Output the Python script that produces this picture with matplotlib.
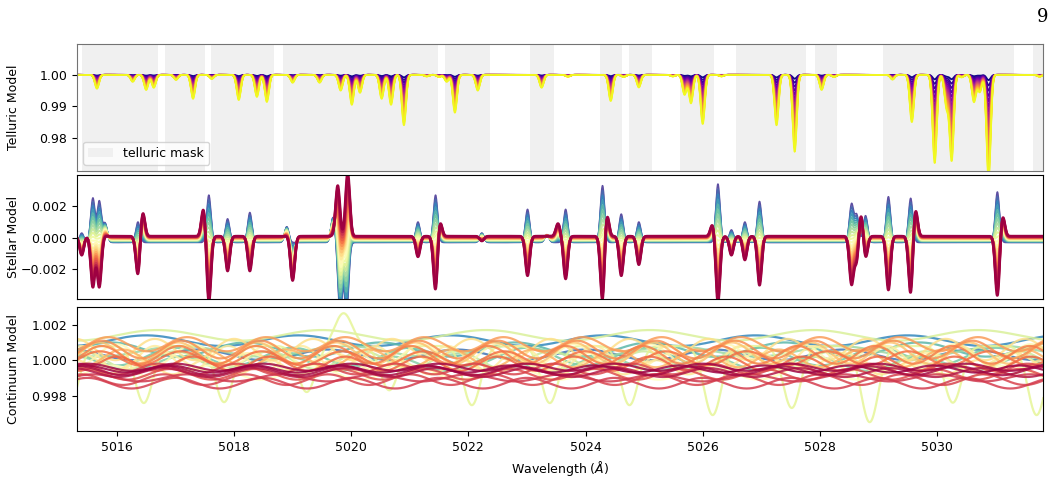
import numpy as np
import matplotlib
matplotlib.use("Agg")
from matplotlib import pyplot as plt

plt.rcParams["font.size"] = 9

# wavelength range shown (Angstrom)
wl_min, wl_max = 5015.32, 5031.81

# telluric mask regions (start, stop)
mask_start = [5015.40, 5016.82, 5017.60, 5018.83, 5021.60, 5023.06, 5024.24,
              5024.74, 5025.61, 5026.56, 5027.91, 5029.07, 5031.63]
mask_stop = [5016.70, 5017.50, 5018.68, 5021.49, 5022.37, 5023.47, 5024.63,
             5025.13, 5026.19, 5027.76, 5028.29, 5031.31, 5031.90]

# telluric lines: centre and full depth (deepest epoch)
tell_center = [5015.66, 5016.27, 5016.50, 5016.63, 5017.01, 5017.30, 5017.62,
               5018.08, 5018.39, 5018.56, 5019.00, 5019.46, 5019.82, 5020.01,
               5020.15, 5020.52, 5020.68, 5020.90, 5021.29, 5021.50, 5021.63,
               5021.77, 5022.16, 5023.25, 5023.70, 5024.43, 5024.65, 5024.91,
               5025.49, 5025.69, 5025.80, 5026.00, 5026.32, 5027.26, 5027.57,
               5028.03, 5028.24, 5029.24, 5029.57, 5029.96, 5030.16, 5030.25,
               5030.42, 5030.63, 5030.73, 5030.88, 5031.75]
tell_depth = [0.0044, 0.0022, 0.0048, 0.0041, 0.0016, 0.0076, 0.0013,
              0.0080, 0.0070, 0.0086, 0.0025, 0.0025, 0.0050, 0.0095,
              0.0057, 0.0076, 0.0095, 0.0160, 0.0005, 0.0007, 0.0022,
              0.0120, 0.0050, 0.0041, 0.0006, 0.0083, 0.0007, 0.0040,
              0.0005, 0.0063, 0.0090, 0.0156, 0.0005, 0.0160, 0.0244,
              0.0048, 0.0007, 0.0015, 0.0150, 0.0280, 0.0100, 0.0270,
              0.0008, 0.0086, 0.0054, 0.0330, 0.0006]
n_tell = 20

# stellar residual components: centre, amplitude at blue end, amplitude at red end
star_center = [5015.40, 5015.59, 5015.70, 5015.80, 5016.36, 5016.44, 5017.48,
               5017.57, 5017.89, 5018.27, 5018.90, 5019.00, 5019.69, 5019.77,
               5019.81, 5019.92, 5019.94, 5021.14, 5021.44, 5021.51, 5022.23,
               5023.01, 5023.34, 5023.53, 5023.66, 5024.29, 5024.36, 5024.61,
               5024.91, 5026.17, 5026.26, 5026.49, 5026.72, 5026.97, 5028.54,
               5028.63, 5028.70, 5028.78, 5029.17, 5029.55, 5029.63, 5031.03,
               5031.12]
star_blue = [0.0006, 0.0028, 0.0026, 0.0012, 0.0013, 0.0, 0.0,
             0.0030, 0.0015, 0.0019, 0.0010, 0.0, 0.0016, 0.0,
             -0.0045, -0.0045, 0.0, 0.0013, 0.0030, 0.0, 0.0006,
             0.0021, 0.0005, 0.0, 0.0021, 0.0036, 0.0, 0.0018,
             0.0013, 0.0, 0.0037, 0.0008, 0.0013, 0.0026, 0.0024,
             0.0017, 0.0, 0.0017, 0.0029, 0.0028, 0.0, 0.0032,
             0.0]
star_red = [-0.0012, -0.0032, -0.0032, 0.0, -0.0025, 0.0016, 0.0018,
            -0.0042, -0.0022, -0.0022, 0.0, -0.0028, 0.0, 0.0032,
            0.0, 0.0, 0.0040, -0.0013, -0.0035, 0.0011, -0.0003,
            -0.0025, 0.0, 0.0008, -0.0027, -0.0042, 0.0016, -0.0025,
            -0.0018, 0.0008, -0.0042, -0.0012, -0.0015, -0.0031, -0.0030,
            -0.0017, 0.0016, -0.0014, -0.0034, -0.0037, 0.0018, -0.0038,
            0.0013]
star_base_blue, star_base_red = -0.0003, 0.0001
n_star = 24

# continuum curves: colour (Spectral), offset, amplitude, period, peak position
cont_color = [0.90, 0.93, 0.82, 0.78, 0.75, 0.72, 0.65, 0.62,
              0.48, 0.45, 0.42, 0.40, 0.50, 0.44, 0.34, 0.31,
              0.25, 0.23, 0.21, 0.27, 0.19, 0.13, 0.11, 0.10,
              0.12, 0.09, 0.02, 0.00, 0.04, 0.01]
cont_offset = [1.0011, 1.0003, 1.0006, 1.0002, 0.9998, 1.0005, 1.0000, 1.0014,
               1.0003, 0.9999, 0.9996, 1.0006, 0.9993, 1.0001, 1.0004, 1.0001,
               1.0006, 1.0003, 1.0001, 1.0009, 0.9998, 0.9992, 0.9989, 0.9987,
               0.9995, 0.9990, 0.9994, 0.9995, 0.9993, 0.9996]
cont_amp = [0.0003, 0.0003, 0.0004, 0.0005, 0.0004, 0.0003, 0.0005, 0.0003,
            0.0006, 0.0005, 0.0004, 0.0006, 0.0004, 0.0007, 0.0006, 0.0005,
            0.0005, 0.0005, 0.0004, 0.0004, 0.0004, 0.0003, 0.0003, 0.0003,
            0.0003, 0.0002, 0.00025, 0.0002, 0.00025, 0.0002]
cont_period = [2.6, 2.2, 2.3, 2.0, 1.8, 2.8, 1.6, 2.8,
               1.3, 1.45, 1.1, 1.35, 1.7, 1.25, 1.35, 1.4,
               1.35, 1.32, 1.38, 1.35, 1.3, 1.45, 1.4, 1.5,
               1.35, 1.6, 1.5, 1.45, 1.55, 1.5]
cont_peak = [5029.5, 5017.4, 5018.2, 5019.0, 5018.9, 5025.5, 5017.0, 5022.3,
             5019.9, 5016.8, 5017.5, 5018.0, 5021.0, 5022.9, 5019.75, 5016.1,
             5019.8, 5019.7, 5019.85, 5019.9, 5016.0, 5016.9, 5016.8, 5017.0,
             5016.7, 5017.2, 5016.85, 5016.9, 5016.8, 5020.0]

# the one continuum curve with deep dips
dip_color = 0.60
dip_base = 1.0008
dip_center = [5015.20, 5016.46, 5017.83, 5019.24, 5019.87, 5020.65, 5022.06,
              5023.39, 5024.75, 5026.17, 5027.52, 5028.85, 5030.27, 5031.70]
dip_value = [0.9976, 0.99758, 0.99763, 0.9982, 1.00265, 0.9983, 0.99746,
             0.99758, 0.99746, 0.9969, 0.9973, 0.9965, 0.9976, 0.9969]

wl = np.linspace(5015.2, 5031.9, 4000)


def gauss(x, c, s):
    return np.exp(-0.5 * ((x - c) / s) ** 2)


fig = plt.figure(figsize=(10.61, 4.78), dpi=100)
ax1 = fig.add_axes([0.0726, 0.6423, 0.9105, 0.2657])
ax2 = fig.add_axes([0.0726, 0.3745, 0.9105, 0.2594], sharex=ax1)
ax3 = fig.add_axes([0.0726, 0.0983, 0.9105, 0.2594], sharex=ax1)

# --- telluric panel
for i, (a, b) in enumerate(zip(mask_start, mask_stop)):
    ax1.axvspan(a, b, color="0.94", lw=0, label="telluric mask" if i == 0 else None, zorder=0)
tau = np.zeros_like(wl)
for c, d in zip(tell_center, tell_depth):
    tau += -np.log(1 - d) * gauss(wl, c, 0.035)
for k, s in enumerate(np.linspace(0.05, 1.0, n_tell)):
    ax1.plot(wl, np.exp(-s * tau), color=plt.cm.plasma(k / (n_tell - 1)), lw=1.3)
ax1.set_ylim(0.9695, 1.0098)
ax1.set_yticks([0.98, 0.99, 1.00])
ax1.set_yticklabels(["0.98", "0.99", "1.00"])
ax1.set_ylabel("Telluric Model")
ax1.legend(loc="lower left", fontsize=9)
for sp in ax1.spines.values():
    sp.set_color("0.45")

# --- stellar panel
for k, t in enumerate(np.linspace(0, 1, n_star)):
    y = np.full_like(wl, star_base_blue * (1 - t) + star_base_red * t)
    for c, ab, ar in zip(star_center, star_blue, star_red):
        y += (ab * (1 - t) + ar * t) * gauss(wl, c, 0.036)
    ax2.plot(wl, y, color=plt.cm.Spectral(1 - t), lw=1.1 + 0.9 * t)
ax2.set_ylim(-0.00387, 0.00397)
ax2.set_yticks([-0.002, 0.0, 0.002])
ax2.set_yticklabels(["\u22120.002", "0.000", "0.002"])
ax2.set_ylabel("Stellar Model")

# --- continuum panel
curves = []
for col, off, amp, per, pk in zip(cont_color, cont_offset, cont_amp, cont_period, cont_peak):
    curves.append((col, off + amp * np.cos(2 * np.pi * (wl - pk) / per)))
ydip = np.full_like(wl, dip_base)
for c, v in zip(dip_center, dip_value):
    ydip += (v - dip_base) * gauss(wl, c, 0.15)
curves.append((dip_color, ydip))
for col, y in sorted(curves, key=lambda p: -p[0]):
    ax3.plot(wl, y, color=plt.cm.Spectral(col), lw=1.6, alpha=0.85)
ax3.set_ylim(0.996, 1.003)
ax3.set_yticks([0.998, 1.000, 1.002])
ax3.set_yticklabels(["0.998", "1.000", "1.002"])
ax3.set_ylabel("Continuum Model")
ax3.set_xlabel(r"Wavelength ($\AA$)")

ax3.set_xlim(wl_min, wl_max)
ax3.set_xticks([5016, 5018, 5020, 5022, 5024, 5026, 5028, 5030])
for ax in (ax1, ax2):
    ax.tick_params(axis="x", bottom=False, labelbottom=False)
for ax in (ax1, ax2, ax3):
    ax.yaxis.set_label_coords(-0.059, 0.5)

fig.text(0.988, 0.955, "9", family="DejaVu Serif", fontsize=13, ha="right")

plt.savefig("out.png", dpi=100)
